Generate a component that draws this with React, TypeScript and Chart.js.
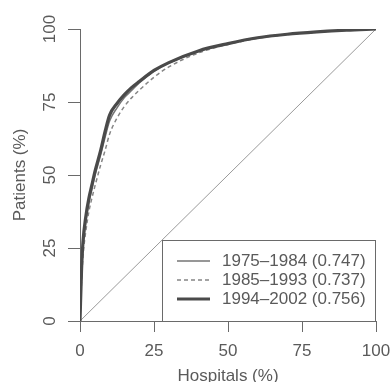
import React, { useEffect, useRef } from "react";
import { Chart, registerables } from "chart.js";

Chart.register(...registerables);

const hospitalsPct = [0, 0.5, 1, 2, 3, 4, 5, 7, 8.5, 10, 12.5, 15, 17.5, 20, 25, 30, 40, 50, 60, 70, 80, 90, 100];
const series1975 = [0, 15, 25, 34, 40.5, 45, 49.5, 57, 63, 68.5, 73, 76.5, 79, 81.5, 85.5, 88.3, 92.3, 95, 97, 98.2, 99, 99.6, 100];
const series1985 = [0, 13, 22, 31, 37.5, 42, 46, 53.5, 58.5, 64, 69.5, 73.5, 76.5, 79, 83.5, 87, 91.8, 94.7, 96.8, 98.1, 99, 99.6, 100];
const series1994 = [0, 17, 27, 36, 42, 46.5, 51, 58.5, 65, 70.5, 74.5, 77.5, 80, 82, 85.8, 88.5, 92.5, 95, 97, 98.2, 99, 99.6, 100];
const equalityX = [0, 100];
const equalityY = [0, 100];
const tickValues = [0, 25, 50, 75, 100];
const legendLabels = ["1975\u20131984 (0.747)", "1985\u20131993 (0.737)", "1994\u20132002 (0.756)"];
const xTitle = "Hospitals (%)";
const yTitle = "Patients (%)";

const FONT = "'Liberation Sans', Arial, sans-serif";
const TEXT = "#5a5a5a";
const AXIS = "#6a6a6a";

const styles = [
  { color: "#747474", width: 1.5, dash: [] as number[] },
  { color: "#858585", width: 1.5, dash: [4, 3] },
  { color: "#4a4a4a", width: 3.2, dash: [] as number[] },
];

export default function App() {
  const ref = useRef<HTMLCanvasElement | null>(null);
  useEffect(() => {
    document.body.style.margin = "0";
    const canvas = ref.current!;
    const mk = (ys: number[]) => hospitalsPct.map((x, i) => ({ x, y: ys[i] }));
    const overlay = {
      id: "overlay",
      afterDraw(chart: any) {
        const ctx = chart.ctx as CanvasRenderingContext2D;
        const xs = chart.scales.x;
        const ys = chart.scales.y;
        const area = chart.chartArea;
        ctx.save();
        ctx.fillStyle = TEXT;
        ctx.font = `17px ${FONT}`;
        ctx.textAlign = "center";
        ctx.textBaseline = "middle";
        for (const v of tickValues) {
          const py = ys.getPixelForValue(v);
          ctx.save();
          ctx.translate(50, py);
          ctx.rotate(-Math.PI / 2);
          ctx.fillText(String(v), 0, 0);
          ctx.restore();
        }
        ctx.save();
        ctx.translate(20.5, (area.top + area.bottom) / 2);
        ctx.rotate(-Math.PI / 2);
        ctx.fillText(yTitle, 0, 0);
        ctx.restore();
        ctx.textBaseline = "alphabetic";
        ctx.fillText(xTitle, (area.left + area.right) / 2, 381);
        // legend
        const bx0 = 162;
        const bx1 = area.right - 1;
        const by0 = 240;
        const by1 = area.bottom;
        ctx.fillStyle = "#ffffff";
        ctx.fillRect(bx0, by0, bx1 - bx0, by1 - by0);
        ctx.strokeStyle = AXIS;
        ctx.lineWidth = 1;
        ctx.strokeRect(bx0 + 0.5, by0 + 0.5, bx1 - bx0, by1 - by0);
        const rowY = [261, 280, 299];
        ctx.textAlign = "left";
        ctx.textBaseline = "middle";
        legendLabels.forEach((lab, i) => {
          const st = styles[i];
          ctx.strokeStyle = st.color;
          ctx.lineWidth = st.width;
          ctx.setLineDash(st.dash);
          ctx.beginPath();
          ctx.moveTo(bx0 + 15, rowY[i]);
          ctx.lineTo(bx0 + 48, rowY[i]);
          ctx.stroke();
          ctx.setLineDash([]);
          ctx.fillStyle = TEXT;
          ctx.fillText(lab, bx0 + 60, rowY[i] + 0.5);
        });
        ctx.restore();
      },
    };
    const chart = new Chart(canvas, {
      type: "line",
      data: {
        datasets: [
          {
            data: equalityX.map((x, i) => ({ x, y: equalityY[i] })),
            borderColor: "#9a9a9a",
            borderWidth: 1,
            pointRadius: 0,
            order: 5,
          },
          ...[series1975, series1985, series1994].map((s, i) => ({
            data: mk(s),
            borderColor: styles[i].color,
            borderWidth: styles[i].width,
            borderDash: styles[i].dash,
            pointRadius: 0,
            cubicInterpolationMode: "monotone" as const,
            order: 3 - i,
          })),
        ],
      },
      options: {
        responsive: false,
        animation: false,
        layout: { padding: { top: 29, right: 14, left: 0, bottom: 0 } },
        plugins: { legend: { display: false }, tooltip: { enabled: false } },
        scales: {
          x: {
            type: "linear",
            min: 0,
            max: 100,
            afterFit: (s: any) => { s.height = 61; s.paddingLeft = 0; s.paddingRight = 0; },
            afterBuildTicks: (s: any) => { s.ticks = tickValues.map((v) => ({ value: v })); },
            ticks: { color: TEXT, font: { size: 17, family: FONT }, padding: 9, maxRotation: 0, autoSkip: false },
            grid: { display: true, drawOnChartArea: false, drawTicks: true, tickLength: 11, color: AXIS, lineWidth: 1 },
            border: { display: true, color: AXIS, width: 1 },
          },
          y: {
            type: "linear",
            min: 0,
            max: 100,
            afterFit: (s: any) => { s.width = 80; s.paddingTop = 0; s.paddingBottom = 0; },
            afterBuildTicks: (s: any) => { s.ticks = tickValues.map((v) => ({ value: v })); },
            ticks: { display: false },
            grid: { display: true, drawOnChartArea: false, drawTicks: true, tickLength: 12, color: AXIS, lineWidth: 1 },
            border: { display: true, color: AXIS, width: 1 },
          },
        },
      },
      plugins: [overlay],
    });
    return () => chart.destroy();
  }, []);
  return <canvas ref={ref} width={390} height={382} style={{ display: "block" }} />;
}
